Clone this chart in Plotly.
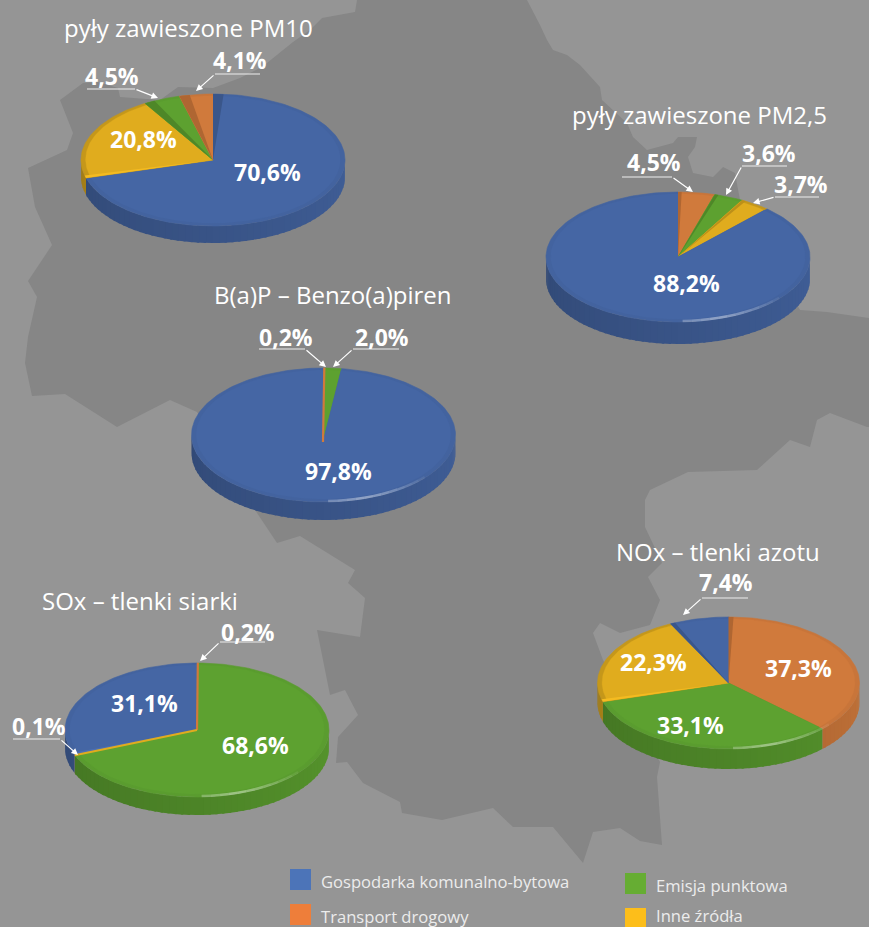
import math
import plotly.graph_objects as go

# ---------- data ----------
categories = ["Gospodarka komunalno-bytowa", "Transport drogowy", "Emisja punktowa", "Inne źródła"]
pm10_values = [70.6, 4.1, 4.5, 20.8]
pm25_values = [88.2, 4.5, 3.6, 3.7]
bap_values = [97.8, 0.2, 2.0, 0.0]
sox_values = [31.1, 0.2, 68.6, 0.1]
nox_values = [7.4, 37.3, 33.1, 22.3]
titles = ["pyły zawieszone PM10", "pyły zawieszone PM2,5", "B(a)P – Benzo(a)piren",
          "SOx – tlenki siarki", "NOx – tlenki azotu"]

# ---------- style / layout ----------
BG = "#959595"
MAP = "#868686"
FACE = [(69, 102, 164), (208, 122, 60), (93, 161, 48), (224, 172, 30)]
RIM = [0.97, 0.96, 0.97, 0.88]
SWATCH = ["#4C74B8", "#EE7E3A", "#66AD33", "#FDBE1A"]
FONT = "Open Sans"

MAP_OUTLINE = [
    (357, 0), (527, 0), (540, 25), (547, 40), (553, 50), (567, 55), (580, 65), (600, 87), (602, 100), (627, 123),
    (633, 137), (647, 150), (673, 143), (678, 137), (697, 137), (695, 147), (688, 157), (693, 173), (713, 177),
    (723, 167), (735, 173), (740, 200), (800, 310), (827, 312), (869, 318), (869, 427), (867, 427), (830, 413),
    (817, 420), (810, 447), (790, 440), (757, 470), (688, 472), (650, 490), (645, 500), (645, 527), (662, 563),
    (648, 577), (660, 600), (650, 625), (620, 633), (600, 623), (593, 633), (603, 660), (660, 762), (657, 777),
    (662, 845), (640, 841), (620, 828), (593, 832), (583, 863), (553, 827), (513, 827), (493, 808), (442, 820),
    (402, 813), (400, 802), (363, 783), (347, 762), (336, 763), (338, 737), (358, 715), (345, 690), (330, 695),
    (317, 630), (360, 637), (365, 598), (348, 583), (355, 570), (300, 536), (277, 543), (257, 513), (197, 412),
    (170, 400), (117, 427), (65, 394), (32, 396), (25, 363), (28, 337), (37, 297), (28, 281), (52, 245), (35, 207),
    (28, 168), (67, 150), (73, 133), (60, 100), (83, 83), (98, 82), (118, 88), (120, 97), (160, 100), (178, 87),
    (213, 88), (240, 78), (262, 67), (293, 42), (310, 30), (322, 18), (355, 12),
]

PIES = [
    dict(values=pm10_values, order=[0, 3, 2, 1], c=(213, 160), r=(132, 66), depth=17, shine=False, wedge=4.6,
         title=(188, 27),
         inside={0: (267, 172), 3: (143, 139)},
         callouts={2: dict(text=(112, 76), line=[(87, 89), (135, 89)], tip=(158, 98)),
                   1: dict(text=(240, 60), line=[(260, 74), (215, 74)], tip=(196, 91))}),
    dict(values=pm25_values, order=[1, 2, 3, 0], c=(678, 257), r=(132, 65), depth=22, shine=True, wedge=1.6,
         title=(699, 114),
         inside={0: (686, 283)},
         callouts={1: dict(text=(654, 162), line=[(622, 177), (672, 177)], tip=(693, 192)),
                   2: dict(text=(769, 153), line=[(787, 166), (742, 166)], tip=(726, 195)),
                   3: dict(text=(801, 184), line=[(819, 197), (775, 197)], tip=(753, 203))}),
    dict(values=bap_values, order=[1, 2, 0], c=(323.5, 435), r=(132, 67), depth=18, shine=True, wedge=1.6,
         apex=(323, 442), title=(333, 294),
         inside={0: (338, 471)},
         callouts={1: dict(text=(286, 337), line=[(259, 349), (305, 349)], tip=(326, 367)),
                   2: dict(text=(382, 337), line=[(399, 349), (353, 349)], tip=(333, 367))}),
    dict(values=sox_values, order=[1, 2, 3, 0], c=(197, 730), r=(132, 67), depth=18, shine=True, wedge=1.6,
         title=(140, 600),
         inside={0: (144, 703), 2: (255, 745)},
         callouts={1: dict(text=(248, 632), line=[(265, 642), (220, 642)], tip=(200, 661)),
                   3: dict(text=(39, 726), line=[(13, 739), (60, 739)], tip=(78, 755))}),
    dict(values=nox_values, order=[1, 2, 3, 0], c=(728.5, 683), r=(131, 66), depth=20, shine=True, wedge=2.2,
         title=(718, 551),
         inside={1: (798, 668), 2: (690, 725), 3: (653, 662)},
         callouts={0: dict(text=(726, 582), line=[(748, 598), (702, 598)], tip=(683, 615))}),
]


def rgb(c, k=1.0):
    return "rgb(%d,%d,%d)" % tuple(min(255, round(v * k)) for v in c)


def ell(c, r, deg, dy=0.0, s=1.0):
    t = math.radians(deg)
    return c[0] + r[0] * s * math.sin(t), c[1] - r[1] * s * math.cos(t) + dy


def arc(c, r, d0, d1, dy=0.0, s=1.0, step=1.5):
    n = max(2, int(abs(d1 - d0) / step) + 2)
    return [ell(c, r, d0 + (d1 - d0) * i / (n - 1), dy, s) for i in range(n)]


def poly(fig, pts, color, name, lw=0.6):
    fig.add_trace(go.Scatter(
        x=[p[0] for p in pts], y=[p[1] for p in pts], mode="lines", fill="toself", fillcolor=color,
        line=dict(color=color, width=lw), name=name, showlegend=False, hoverinfo="skip"))


fig = go.Figure()
annotations = []
shapes = [dict(type="path", layer="below", line_width=0, fillcolor=MAP, xref="x", yref="y",
               path="M" + " L".join(f"{x},{y}" for x, y in MAP_OUTLINE) + " Z")]


def text(x, y, s, size, weight=400, color="white", xanchor="center"):
    annotations.append(dict(x=x, y=y, text=s, showarrow=False, xanchor=xanchor, yanchor="middle",
                            font=dict(family=FONT, size=size, color=color, weight=weight)))


for pie, ttl in zip(PIES, titles):
    c, r, depth = pie["c"], pie["r"], pie["depth"]
    apex = pie.get("apex", c)
    start = 0.0
    slices = []
    for idx in pie["order"]:
        v = pie["values"][idx]
        end = start + v * 3.6
        slices.append((idx, v, start, end))
        start = end

    # side wall: the part of each slice facing the viewer, in overlapping strips for shading
    for idx, v, a0, a1 in slices:
        lo, hi = max(a0, 90), min(a1, 270)
        if hi <= lo:
            continue
        d = lo
        while d < hi:
            e = min(d + 3, hi)
            k = 0.92 - 0.20 * ((d + e) / 2 - 90) / 180
            top = arc(c, r, d, min(e + 1, hi))
            poly(fig, top + [(x, y + depth) for x, y in reversed(top)], rgb(FACE[idx], k), categories[idx], lw=0)
            d = e

    # top face: bevel rim, inner face, radial edge bevels
    for idx, v, a0, a1 in slices:
        if a1 - a0 <= 0:
            continue
        poly(fig, [apex] + arc(c, r, a0, a1), rgb(FACE[idx], RIM[idx]), categories[idx])
        poly(fig, [apex] + arc(c, r, a0, a1, dy=-0.5, s=0.965), rgb(FACE[idx]), categories[idx], lw=0.3)
    for idx, v, a0, a1 in slices:
        if v > 3 and (a0 == 0 or (v < 50 and (5 < a0 < 35 or a0 >= 270))):
            poly(fig, [apex] + arc(c, r, a0, a0 + pie["wedge"]), rgb(FACE[idx], 0.84), categories[idx], lw=0)
        elif v > 3 and 180 < a0 < 270:
            poly(fig, [apex] + arc(c, r, a0, a0 + 2.2), rgb(FACE[idx], 1.09), categories[idx], lw=0)
    # very small slices stay visible as a thin sliver
    for idx, v, a0, a1 in slices:
        if 0 < v < 0.5:
            p = ell(c, r, (a0 + a1) / 2)
            fig.add_trace(go.Scatter(x=[apex[0], p[0]], y=[apex[1], p[1]], mode="lines", name=categories[idx],
                                     line=dict(color=rgb(FACE[idx]), width=2.2), showlegend=False, hoverinfo="skip"))

    # specular highlight along the front rim
    if pie["shine"]:
        for i in range(12):
            d0, d1 = 178 - i * 4, 178 - (i + 1) * 4
            alpha = 0.42 * (1 - abs(i - 3.5) / 9)
            pts = arc(c, r, d0, d1, dy=-1.0)
            fig.add_trace(go.Scatter(x=[p[0] for p in pts], y=[p[1] for p in pts], mode="lines",
                                     line=dict(color=f"rgba(255,255,255,{alpha:.2f})", width=2.5),
                                     showlegend=False, hoverinfo="skip"))

    # texts
    text(pie["title"][0], pie["title"][1], ttl, 24)
    for idx, pos in pie["inside"].items():
        text(pos[0], pos[1], f"{pie['values'][idx]:.1f}%".replace(".", ","), 23, 700)
    for idx, co in pie["callouts"].items():
        text(co["text"][0], co["text"][1], f"{pie['values'][idx]:.1f}%".replace(".", ","), 23, 700)
        (x0, y0), (x1, y1) = co["line"]
        shapes.append(dict(type="line", x0=x0, y0=y0, x1=x1, y1=y1, xref="x", yref="y",
                           line=dict(color="#eeeeee", width=1.2)))
        annotations.append(dict(x=co["tip"][0], y=co["tip"][1], ax=x1, ay=y1, axref="x", ayref="y", text="",
                                showarrow=True, arrowhead=2, arrowsize=1.1, arrowwidth=1.2, arrowcolor="white"))

# legend
legend_pos = [(290, 869), (290, 904), (625, 873), (625, 908)]
legend_text_y = [881, 916, 885, 915]
for (x, y), ty, col, name in zip(legend_pos, legend_text_y, SWATCH, categories):
    shapes.append(dict(type="rect", x0=x, y0=y, x1=x + 21, y1=y + 21, xref="x", yref="y", fillcolor=col, line_width=0))
    text(x + 29, ty, name, 16.6, 400, "#ececec", "left")

fig.update_layout(
    width=869, height=927, margin=dict(l=0, r=0, t=0, b=0), paper_bgcolor=BG, plot_bgcolor=BG,
    showlegend=False, annotations=annotations, shapes=shapes,
    xaxis=dict(range=[0, 869], visible=False, fixedrange=True),
    yaxis=dict(range=[927, 0], visible=False, fixedrange=True),
)
fig.write_html("out.html", config={"displayModeBar": False},
               post_script="document.body.style.margin='0';document.body.style.overflow='hidden';")
